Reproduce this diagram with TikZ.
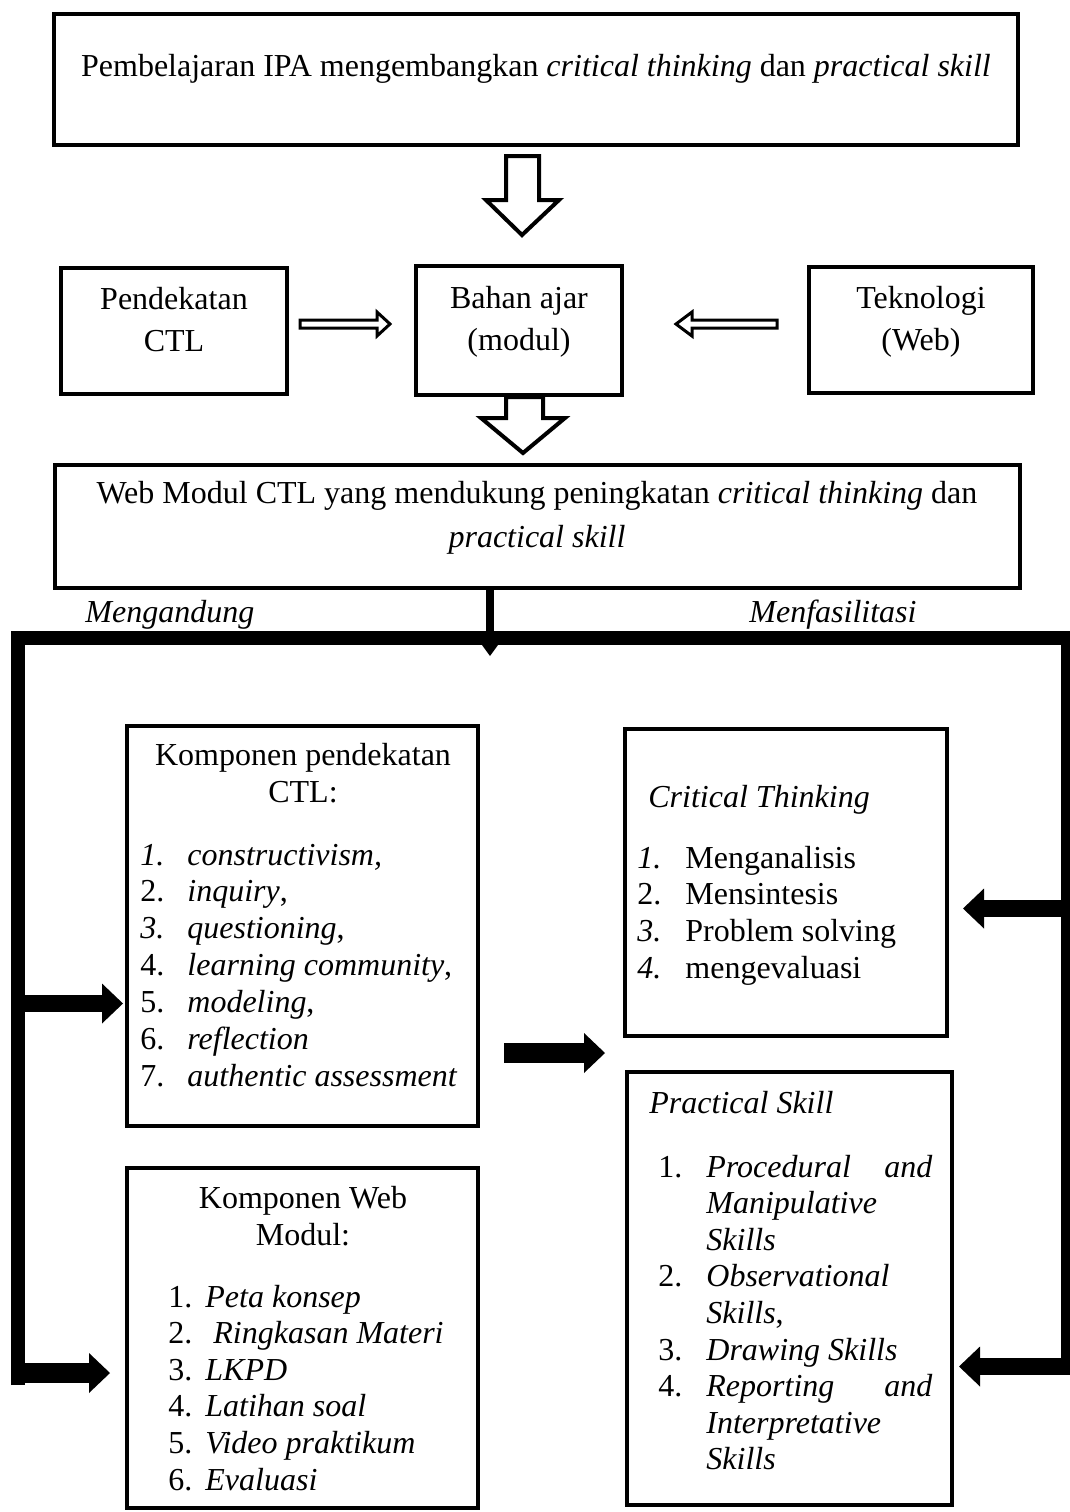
\documentclass[tikz,border=0pt]{standalone}
\usepackage{fontspec}
\setmainfont{Liberation Serif}
\usetikzlibrary{arrows.meta}

\begin{document}
\begin{tikzpicture}
    [
    x=0.5pt, y=-0.5pt
    , box/.style = {draw, line width=2pt, inner sep=0pt, outer sep=0pt}
    , txt/.style = {inner sep=0pt, font=\fontsize{16pt}{18.5pt}\selectfont}
    , hollow/.style = {draw, line width=2pt, fill=white, line join=miter}
    , hollowsm/.style = {draw, line width=1.5pt, fill=white, line join=miter}
    , bigarrow/.style = {line width=8.5pt, -{Triangle[length=10.5pt,width=20pt,line width=0pt]}}
    , frame/.style = {line width=7pt, line join=miter}
    ]
\useasboundingbox (0,0) rectangle (1070,1512);

% boxes
\node[box, minimum width=482pt, minimum height=65.5pt] (top) at (536,79.5) {};
\node[box, minimum width=113pt, minimum height=63pt] (pend) at (174,331) {};
\node[box, minimum width=103pt, minimum height=64.5pt] (bahan) at (519,330.5) {};
\node[box, minimum width=112pt, minimum height=63pt] (tekno) at (921,330) {};
\node[box, minimum width=482.5pt, minimum height=61.5pt] (web) at (537.5,526.5) {};
\node[box, minimum width=175.5pt, minimum height=200pt] (ctl) at (302.5,926) {};
\node[box, minimum width=161pt, minimum height=153.5pt] (crit) at (786,882.5) {};
\node[box, minimum width=162.5pt, minimum height=216.5pt] (prac) at (789.5,1288.5) {};
\node[box, minimum width=175.5pt, minimum height=170pt] (wkomp) at (302.5,1338) {};

% texts
\node[txt, anchor=base] (toptext) at (536,76) {Pembelajaran IPA mengembangkan \textit{critical thinking} dan \textit{practical skill}};
\node[txt, anchor=base] (pend-1) at (174,309) {Pendekatan};
\node[txt, anchor=base] (pend-2) at (174,351) {CTL};
\node[txt, anchor=base] (bahan-1) at (519,308) {Bahan ajar};
\node[txt, anchor=base] (bahan-2) at (519,350) {(modul)};
\node[txt, anchor=base] (tekno-1) at (921,308) {Teknologi};
\node[txt, anchor=base] (tekno-2) at (921,350) {(Web)};
\node[txt, anchor=base] (web-1) at (537,503) {Web Modul CTL yang mendukung peningkatan \textit{critical thinking} dan};
\node[txt, anchor=base] (web-2) at (537,547) {\textit{practical skill}};
\node[txt, anchor=base west] (mengandung) at (85,622) {\textit{Mengandung}};
\node[txt, anchor=base west] (menfas) at (749,622) {\textit{Menfasilitasi}};

\node[txt, anchor=base] (ctl-h1) at (303,765) {Komponen pendekatan};
\node[txt, anchor=base] (ctl-h2) at (303,802) {CTL:};
\foreach \nr/\lbl [count=\i from 0] in {{\textit{1.}}/{\textit{constructivism,}}, {2.}/{\textit{inquiry},}, {\textit{3.}}/{\textit{questioning},}, {4.}/{\textit{learning community},}, {5.}/{\textit{modeling},}, {6.}/{\textit{reflection}}, {7.}/{\textit{authentic assessment}}}
{
\node[txt, anchor=base west] (ctl-n\i) at (140,865+36.9*\i) {\nr};
\node[txt, anchor=base west] (ctl-\i) at (187,865+36.9*\i) {\lbl};
}

\node[txt, anchor=base] (wkomp-h1) at (303,1208) {Komponen Web};
\node[txt, anchor=base] (wkomp-h2) at (303,1245) {Modul:};
\foreach \nr/\lbl [count=\i from 0] in {{1.}/{\textit{Peta konsep}}, {2.}/{\ \textit{Ringkasan Materi}}, {3.}/{\textit{LKPD}}, {4.}/{\textit{Latihan soal}}, {5.}/{\textit{Video praktikum}}, {6.}/{\textit{Evaluasi}}}
{
\node[txt, anchor=base west] (wkomp-n\i) at (168,1307+36.6*\i) {\nr};
\node[txt, anchor=base west] (wkomp-\i) at (205,1307+36.6*\i) {\lbl};
}

\node[txt, anchor=base west] (crit-h) at (648,807) {\textit{Critical Thinking}};
\foreach \nr/\lbl [count=\i from 0] in {{\textit{1.}}/{Menganalisis}, {2.}/{Mensintesis}, {\textit{3.}}/{Problem solving}, {\textit{4.}}/{mengevaluasi}}
{
\node[txt, anchor=base west] (crit-n\i) at (637,868+36.7*\i) {\nr};
\node[txt, anchor=base west] (crit-\i) at (685,868+36.7*\i) {\lbl};
}

\node[txt, anchor=base west] (prac-h) at (649,1113) {\textit{Practical Skill}};
\foreach \nr/\lbl [count=\i from 0] in {{1.}/{\makebox[113pt][s]{\textit{Procedural} \textit{and}}}, {}/{\textit{Manipulative}}, {}/{\textit{Skills}}, {2.}/{\textit{Observational}}, {}/{\textit{Skills},}, {3.}/{\textit{Drawing Skills}}, {4.}/{\makebox[113pt][s]{\textit{Reporting} \textit{and}}}, {}/{\textit{Interpretative}}, {}/{\textit{Skills}}}
{
\node[txt, anchor=base west] (prac-n\i) at (658,1177+36.6*\i) {\nr};
\node[txt, anchor=base west] (prac-\i) at (706,1177+36.6*\i) {\lbl};
}

% hollow arrows
\draw[hollow] (506,156) -- (539,156) -- (539,200) -- (559,200) -- (522,235) -- (486,200) -- (506,200) -- cycle;
\draw[hollow] (506,397) -- (543,397) -- (543,418) -- (565,418) -- (523,453) -- (481,418) -- (506,418) -- cycle;
\draw[hollowsm] (300,320) -- (377,320) -- (377,312) -- (390,324) -- (377,336) -- (377,328) -- (300,328) -- cycle;
\draw[hollowsm] (777,320) -- (692,320) -- (692,312) -- (676,324) -- (692,336) -- (692,328) -- (777,328) -- cycle;

% frame and black arrows
\coordinate (fork) at (490,638);
\coordinate (ctlin) at (123,1003.5);
\coordinate (wkompin) at (110,1373);
\coordinate (critin) at (963,908.5);
\coordinate (pracin) at (959,1366.5);
\coordinate (midout) at (504,1053);
\coordinate (midin) at (605,1053);
\draw[frame] (18,1385) -- (18,638) -- (1068,638) -- (1068,1375);
\draw[line width=4pt, -{Triangle[length=5.5pt,width=8pt,line width=0pt]}] (web.south -| fork) -- ([yshift=-9pt]fork);
\draw[bigarrow] (18,1003.5) -- (ctlin);
\draw[bigarrow, line width=10pt] (12,1373) -- (wkompin);
\draw[bigarrow] (1070,908.5) -- (critin);
\draw[bigarrow] (1070,1366.5) -- (pracin);
\draw[bigarrow, line width=10pt] (midout) -- (midin);
\end{tikzpicture}
\end{document}
